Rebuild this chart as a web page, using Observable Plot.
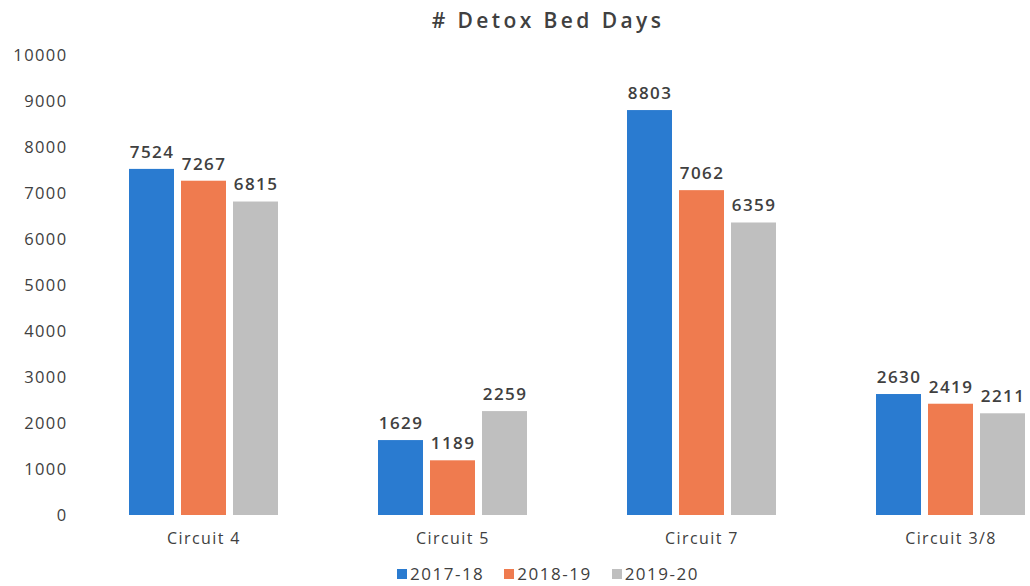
<!DOCTYPE html>
<html>
<head>
<meta charset="utf-8">
<script src="https://cdn.jsdelivr.net/npm/d3@7"></script>
<script src="https://cdn.jsdelivr.net/npm/@observablehq/plot@0.6"></script>
<style>
  body { margin: 0; background: #fff; font-family: "Open Sans", sans-serif; color: #404040; width: 1030px; overflow: hidden; }
  #title { height: 40px; line-height: 40px; text-align: center; font-size: 21px; font-weight: 600; letter-spacing: 3.4px; padding-left: 66px; box-sizing: border-box; }
  #chart { height: 520px; }
  #legend { display: flex; justify-content: center; gap: 20px; font-size: 17px; letter-spacing: 1.5px; margin-top: 4px; padding-left: 66px; box-sizing: border-box; line-height: 20px; }
  #legend span.sw { display: inline-block; width: 10px; height: 10px; margin-right: 3px; vertical-align: 1px; }
  svg text { letter-spacing: 1.4px; }
</style>
</head>
<body>
<div id="title"># Detox Bed Days</div>
<div id="chart"></div>
<div id="legend"></div>
<script>
const circuits = ["Circuit 4", "Circuit 5", "Circuit 7", "Circuit 3/8"];
const years = ["2017-18", "2018-19", "2019-20"];
const values2017 = [7524, 1629, 8803, 2630];
const values2018 = [7267, 1189, 7062, 2419];
const values2019 = [6815, 2259, 6359, 2211];
const colors = ["#2a7bd0", "#ef7b4f", "#bfbfbf"];

const series = [values2017, values2018, values2019];
const data = [];
circuits.forEach((c, i) => years.forEach((y, j) => data.push({circuit: c, year: y, value: series[j][i]})));

const chart = Plot.plot({
  width: 1030,
  height: 520,
  marginTop: 15,
  marginBottom: 45,
  marginLeft: 77,
  marginRight: 0,
  style: {fontSize: "16px", fontFamily: "Open Sans", color: "#404040", background: "#fff", display: "block"},
  fx: {domain: circuits, range: [77, 1076], padding: 0, label: null, axis: "bottom", tickSize: 0, tickPadding: 17},
  x: {domain: years, axis: null, paddingInner: 0.14, paddingOuter: 0.93},
  y: {domain: [0, 10000], ticks: 10, tickFormat: d => String(d), label: null, tickSize: 0, tickPadding: 12},
  color: {domain: years, range: colors},
  marks: [
    Plot.barY(data, {fx: "circuit", x: "year", y: "value", fill: "year"}),
    Plot.text(data, {fx: "circuit", x: "year", y: "value", text: d => String(d.value), dy: -17, fontSize: 17, fontWeight: 600, fill: "#404040"})
  ]
});
chart.querySelectorAll("[aria-label='y-axis tick label'] text, g[aria-label='y-axis'] text").forEach(t => t.style.fontSize = "16.5px");
document.getElementById("chart").appendChild(chart);

const legend = document.getElementById("legend");
years.forEach((y, i) => {
  const item = document.createElement("div");
  item.innerHTML = `<span class="sw" style="background:${colors[i]}"></span>${y}`;
  legend.appendChild(item);
});
</script>
</body>
</html>
